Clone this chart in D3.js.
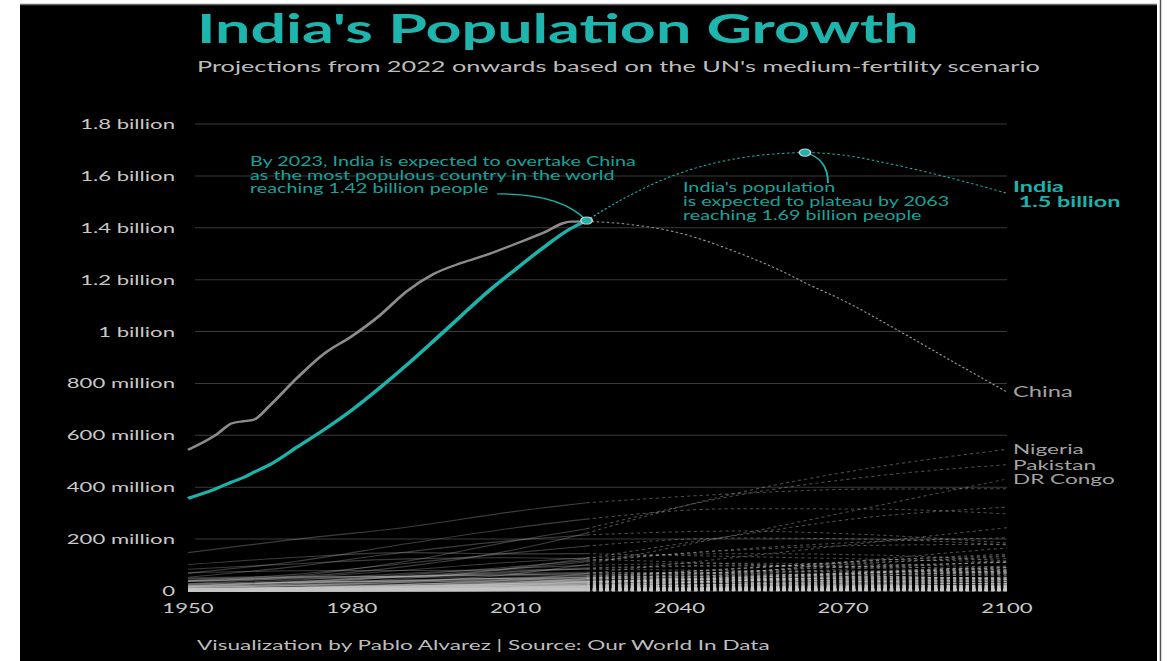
<!DOCTYPE html>
<html><head><meta charset="utf-8">
<script src="https://cdn.jsdelivr.net/npm/d3@7"></script>
<style>html,body{margin:0;padding:0;background:#fff;overflow:hidden}svg{display:block}text{font-family:Lato,sans-serif}</style>
</head><body><svg id="c" width="1171" height="661"></svg>
<script>
// ---- data (population in millions) ----
const histYears = [1950,1955,1958,1960,1962,1965,1970,1975,1980,1985,1990,1995,2000,2005,2010,2015,2020,2023];
const indiaHist = [357,393,420,436,457,487,555,623,697,781,870,964,1060,1155,1240,1322,1396,1428];
const chinaHist = [544,600,646,654,660,715,822,916,982,1060,1154,1222,1264,1298,1338,1380,1424,1425];
const projYears = [2023,2030,2040,2050,2060,2063,2070,2080,2090,2100];
const indiaProj = [1428,1515,1610,1665,1688,1690,1680,1640,1590,1533];
const chinaProj = [1425,1415,1380,1310,1220,1188,1120,1005,885,767];

const otherHistYears = [1950,1970,1990,2010,2023];
const otherProjYears = [2023,2050,2075,2100];
const otherNames = ["United States","Indonesia","Pakistan","Nigeria","Brazil","Bangladesh","Russia","Mexico","Japan","Ethiopia","Philippines","Egypt","DR Congo","Vietnam","Iran","Turkey","Germany","Thailand","United Kingdom","France","Tanzania","South Africa","Italy","Kenya","Myanmar","Colombia","South Korea","Uganda","Sudan","Spain","Argentina","Algeria","Iraq","Afghanistan","Poland","Canada","Morocco","Saudi Arabia","Ukraine","Angola","Uzbekistan","Yemen","Mozambique","Ghana","Peru","Malaysia","Nepal","Madagascar","Cote d'Ivoire","Venezuela","Cameroon","Niger","Australia","North Korea","Mali","Burkina Faso","Syria","Sri Lanka","Malawi","Zambia","Romania","Chile","Kazakhstan","Chad","Ecuador","Somalia","Guatemala","Senegal","Netherlands","Cambodia","Zimbabwe","Guinea","Rwanda","Benin","Burundi","Tunisia","Bolivia","Belgium","Haiti","Cuba","South Sudan","Dominican Republic","Czechia","Greece","Jordan","Portugal","Sweden","Azerbaijan","Hungary","Honduras","Belarus","Israel","Tajikistan","Papua New Guinea","Austria","Switzerland","Sierra Leone","Togo","Laos","Serbia","Bulgaria","Paraguay","Libya","Kyrgyzstan","El Salvador","Nicaragua","Turkmenistan","Singapore","Denmark","Finland","Congo","Norway","Lebanon","Liberia","Central African Republic","Ireland","New Zealand","Costa Rica","Mauritania","Oman","Palestine","Kuwait","Panama","Croatia","Georgia","Eritrea","Mongolia","Uruguay","Bosnia","Armenia","Albania","Lithuania","Jamaica","Qatar","Namibia","Gambia","Botswana","Gabon","Lesotho","Slovenia","Latvia","North Macedonia","Guinea-Bissau","Moldova","Bahrain","Equatorial Guinea","Estonia","Mauritius","Eswatini","Timor-Leste","Djibouti","Fiji","Cyprus","Comoros"];
const otherHist = [[148,200,246,307,340],[69,115,182,244,277],[37,59,115,194,240],[38,55,95,160,223],[53,95,150,196,216],[39,65,107,148,173],[102,130,148,143,144],[28,51,81,112,128],[84,105,124,128,123],[18,29,48,89,126],[18,36,62,94,117],[21,35,57,87,113],[13,20,35,66,102],[25,43,68,88,99],[17,29,56,76,89],[21,34,54,73,86],[70,78,79,81,84],[20,37,56,68,72],[50,56,57,63,68],[42,51,57,63,65],[8,13,25,45,67],[14,22,39,51,60],[47,53,57,59,59],[6,11,24,42,55],[17,26,41,50,54],[12,22,34,45,52],[19,32,43,49,52],[5,10,17,32,48],[6,11,20,34,48],[28,34,39,47,48],[17,24,33,41,46],[9,14,26,36,45],[6,10,18,30,45],[8,11,11,29,42],[25,33,38,38,38],[14,21,28,34,39],[9,16,25,32,38],[4,6,16,29,37],[37,47,52,46,37],[4,7,12,23,37],[6,12,20,28,35],[4,6,12,24,34],[6,9,13,23,34],[5,9,15,25,34],[8,13,22,29,34],[6,11,18,29,34],[8,12,18,27,31],[4,7,12,21,30],[3,6,12,21,29],[5,11,20,28,28],[4,7,12,20,28],[2,4,8,16,27],[8,13,17,22,26],[10,15,20,25,26],[5,6,8,15,23],[4,6,8,16,23],[3,6,12,22,23],[8,13,18,20,22],[3,5,9,15,21],[2,4,8,14,21],[16,20,23,20,19],[6,10,13,17,20],[6,13,16,16,20],[2,4,6,12,18],[3,6,10,15,18],[2,4,7,12,18],[3,6,9,14,18],[3,4,8,13,18],[10,13,15,17,18],[4,7,9,14,17],[3,5,9,12,17],[3,4,5,10,14],[2,4,7,10,14],[2,3,5,9,14],[2,3,5,9,13],[4,5,8,11,12],[3,4,7,10,12],[9,10,10,11,12],[3,5,7,10,12],[6,9,11,11,11],[3,3,5,10,11],[2,4,7,10,11],[9,10,10,10,11],[8,9,10,11,10],[0.5,2,3,7,11],[8,9,10,10,10],[7,8,9,9,11],[3,5,7,9,10],[9,10,10,10,10],[2,3,5,8,10],[8,9,10,9,9],[1,3,5,7,9],[2,3,5,8,10],[2,2,4,8,10],[7,7,8,8,9],[5,6,7,8,9],[2,3,4,7,9],[1,2,4,7,9],[2,3,4,6,8],[7,8,8,7,7],[7,9,9,7,7],[1,2,4,6,7],[1,2,4,6,7],[2,3,4,5,7],[2,4,5,6,6],[1,2,4,6,7],[1,2,4,5,6],[1,2,3,5,6],[4,5,5,6,6],[4,5,5,5,6],[1,1,2,4,6],[3,4,4,5,5],[1,2,3,5,5],[1,1,2,4,5],[1,2,3,4,5],[3,3,4,5,5],[2,3,3,4,5],[1,2,3,5,5],[1,1,2,4,5],[0.5,1,2,3,5],[1,1,2,4,5],[0.2,1,2,3,4],[1,2,2,4,4],[4,4,5,4,4],[3,4,5,4,4],[1,2,2,3,4],[1,1,2,3,3],[2,3,3,3,3],[3,4,4,4,3],[1,3,4,3,3],[1,2,3,3,3],[3,3,4,3,3],[1,2,2,3,3],[0,0.1,0.5,2,3],[0.5,1,1,2,3],[0.3,0.5,1,2,3],[0.4,0.7,1,2,3],[0.5,0.6,1,2,2],[0.7,1,2,2,2],[1.5,1.7,2,2,2],[2,2,3,2,2],[1,2,2,2,2],[0.5,0.6,1,2,2],[2,3,4,3,3],[0.1,0.2,0.5,1,1.5],[0.2,0.3,0.4,1,2],[1,1,1.5,1.3,1.3],[0.5,0.8,1,1.2,1.3],[0.3,0.4,0.8,1,1.2],[0.4,0.6,0.7,1,1.3],[0.1,0.2,0.6,0.9,1.1],[0.3,0.5,0.7,0.9,0.9],[0.5,0.6,0.8,1,1.3],[0.2,0.2,0.4,0.7,0.9]];
const otherProj = [[375,393,394],[317,316,297],[367,441,487],[375,474,546],[231,217,185],[204,200,177],[133,123,112],[144,139,116],[105,88,74],[213,285,323],[157,176,180],[160,190,205],[215,323,432],[107,103,91],[99,95,79],[96,93,83],[79,75,70],[67,57,46],[72,73,70],[66,64,60],[129,187,244],[73,78,74],[52,44,37],[86,111,125],[59,55,47],[56,55,45],[46,36,24],[87,117,136],[84,117,142],[44,38,32],[50,49,44],[60,66,67],[74,95,111],[74,97,110],[33,26,20],[45,49,53],[45,45,41],[47,50,47],[31,22,15],[72,107,133],[47,51,52],[56,71,77],[63,89,113],[52,64,70],[40,40,35],[40,41,37],[37,35,27],[53,74,97],[51,70,84],[34,33,28],[50,72,93],[67,120,166],[32,36,38],[26,23,19],[47,70,90],[39,53,63],[40,47,47],[22,20,16],[39,54,66],[40,59,75],[15,13,11],[20,18,15],[25,28,30],[38,59,79],[21,21,18],[41,69,90],[26,29,28],[33,45,54],[18,17,16],[22,24,22],[27,34,37],[26,37,45],[23,28,29],[25,35,42],[27,40,50],[13,13,11],[16,17,16],[12,12,11],[15,16,15],[10,8,6],[18,24,29],[13,13,12],[10,9,9],[8,7,6],[15,16,15],[9,7,6],[12,12,12],[11,10,9],[9,8,7],[13,14,13],[8,7,6],[15,19,22],[16,20,22],[16,20,22],[9,9,8],[10,10,10],[13,15,15],[15,20,23],[9,9,8],[5,4,3],[5,4,4],[8,8,7],[8,8,7],[9,10,10],[7,6,5],[8,8,7],[8,8,8],[6,6,5],[6,6,6],[5,5,5],[10,14,17],[6,6,6],[5,5,4],[9,11,13],[10,14,18],[6,6,6],[6,6,6],[5,5,4],[8,11,13],[6,6,6],[8,10,11],[5,5,5],[5,5,5],[3,3,2],[3,3,3],[6,7,8],[4,4,4],[3,3,2],[2,2,1],[3,2,2],[2,2,1],[2,2,2],[3,2,2],[3,3,3],[4,4,4],[4,5,5],[3,4,4],[4,4,5],[3,3,3],[2,2,2],[1.5,1.3,1.1],[2,1.5,1.2],[3,4,4],[2,2,1.5],[2,2,2],[3,3,4],[1.2,1.1,1],[1.2,1,0.8],[1.5,1.6,1.5],[2,2,2],[1.5,1.6,1.5],[1,1,1],[1.4,1.4,1.3],[1.3,1.5,1.6]];

const yTicks = [0,200,400,600,800,1000,1200,1400,1600,1800];
const xTicks = [1950,1980,2010,2040,2070,2100];
const labeledOthers = ["Nigeria","Pakistan","DR Congo"];
const markerYears = [2023,2063];
const markerValues = [1428,1690];

const title = "India's Population Growth";
const subtitle = "Projections from 2022 onwards based on the UN's medium-fertility scenario";
const footer = "Visualization by Pablo Alvarez | Source: Our World In Data";
const note1 = ["By 2023, India is expected to overtake China","as the most populous country in the world","reaching 1.42 billion people"];
const note2 = ["India's population","is expected to plateau by 2063","reaching 1.69 billion people"];

// ---- drawing ----
const S = 1.58; // horizontal stretch of the reference image
const TEAL = "#1bb3ab", TEAL_TXT = "#17a39c";
const svg = d3.select("#c");
svg.append("rect").attr("width",1171).attr("height",661).attr("fill","#fff");
svg.append("rect").attr("x",20).attr("y",4).attr("width",1137).attr("height",657).attr("fill","#000");
svg.append("line").attr("x1",20).attr("x2",1157).attr("y1",4.5).attr("y2",4.5).attr("stroke","#6a6a6a").attr("stroke-width",1.5);
svg.append("line").attr("x1",1160.5).attr("x2",1160.5).attr("y1",0).attr("y2",661).attr("stroke","#555").attr("stroke-width",1.5);

const g = svg.append("g").attr("transform",`scale(${S},1)`);
const x = d3.scaleLinear().domain([1950,2100]).range([188/S,1007/S]);
const y = d3.scaleLinear().domain([0,1800]).range([591,124]);
const line = d3.line().x(d=>x(d[0])).y(d=>y(d[1])).curve(d3.curveMonotoneX);

// grid
g.selectAll(".grid").data(yTicks).join("line")
  .attr("x1",195/S).attr("x2",x(2100)).attr("y1",d=>y(d)).attr("y2",d=>y(d))
  .attr("stroke","#3a3a3a").attr("stroke-width",1);
const fmt = v => v===0 ? "0" : v>=1000 ? d3.format("~g")(v/1000)+" billion" : v+" million";
g.selectAll(".yl").data(yTicks).join("text")
  .attr("x",175/S).attr("y",d=>y(d)+5).attr("text-anchor","end")
  .attr("font-size",14).attr("fill","#c9c9c9").text(fmt);
g.selectAll(".xl").data(xTicks).join("text")
  .attr("x",d=>x(d)).attr("y",613).attr("text-anchor","middle")
  .attr("font-size",14).attr("fill","#c9c9c9").text(d=>d);

// other countries
const oth = g.append("g");
otherNames.forEach((n,i)=>{
  const h = otherHistYears.map((yr,j)=>[yr,otherHist[i][j]]);
  const p = otherProjYears.map((yr,j)=>[yr, j===0 ? otherHist[i][4] : otherProj[i][j-1]]);
  oth.append("path").attr("d",line(h)).attr("fill","none").attr("stroke","#c8c8c8").attr("stroke-opacity",0.3).attr("stroke-width",1.1);
  oth.append("path").attr("d",line(p)).attr("fill","none").attr("stroke","#c8c8c8").attr("stroke-opacity",0.4).attr("stroke-width",1).attr("stroke-dasharray","2,2");
  if (labeledOthers.includes(n)) {
    g.append("text").attr("x",1013/S).attr("y",y(otherProj[i][2])+5).attr("font-size",14.3).attr("fill","#a3a3a3").text(n);
  }
});

// China
g.append("path").attr("d",line(histYears.map((yr,j)=>[yr,chinaHist[j]]))).attr("fill","none").attr("stroke","#8c8c8c").attr("stroke-width",2.2);
g.append("path").attr("d",line(projYears.map((yr,j)=>[yr,chinaProj[j]]))).attr("fill","none").attr("stroke","#9a9a9a").attr("stroke-width",1).attr("stroke-dasharray","1.6,1.6");
g.append("text").attr("x",1013/S).attr("y",y(chinaProj[chinaProj.length-1])+5).attr("font-size",15).attr("fill","#a3a3a3").text("China");

// India
g.append("path").attr("d",line(histYears.map((yr,j)=>[yr,indiaHist[j]]))).attr("fill","none").attr("stroke",TEAL).attr("stroke-width",2.8);
g.append("path").attr("d",line(projYears.map((yr,j)=>[yr,indiaProj[j]]))).attr("fill","none").attr("stroke",TEAL).attr("stroke-width",1).attr("stroke-dasharray","1.6,1.6");
const iEnd = y(indiaProj[indiaProj.length-1]);
g.append("text").attr("x",1013/S).attr("y",iEnd-1.5).attr("font-size",14.8).attr("font-weight",700).attr("fill",TEAL).text("India");
g.append("text").attr("x",1013/S).attr("y",iEnd+13.5).attr("font-size",14.8).attr("font-weight",700).attr("fill",TEAL).attr("xml:space","preserve").text(" 1.5 billion");

// annotation connectors
const m1x = x(markerYears[0]), m1y = y(markerValues[0]);
const m2x = x(markerYears[1]), m2y = y(markerValues[1]);
g.append("path").attr("d",`M${497/S},194 Q${560/S},193 ${m1x},${m1y}`).attr("fill","none").attr("stroke",TEAL).attr("stroke-width",1.2);
g.append("path").attr("d",`M${m2x},${m2y} Q${828/S},${m2y+6} ${828/S},183`).attr("fill","none").attr("stroke",TEAL).attr("stroke-width",1.2);
// markers
g.selectAll(".mk").data(markerYears).join("circle")
  .attr("cx",d=>x(d)).attr("cy",(d,i)=>y(markerValues[i])).attr("r",3.6)
  .attr("fill",TEAL).attr("stroke","#cfcfcf").attr("stroke-width",1);

// annotation texts
note1.forEach((t,i)=>g.append("text").attr("x",250/S).attr("y",166.5+i*13.4).attr("font-size",12.5).attr("fill",TEAL_TXT).text(t));
note2.forEach((t,i)=>g.append("text").attr("x",683/S).attr("y",192.5+i*13.6).attr("font-size",12.5).attr("fill",TEAL_TXT).text(t));

// titles
g.append("text").attr("x",197/S).attr("y",43).attr("font-size",39.7).attr("font-weight",700).attr("fill","#1db5ad").text(title);
g.append("text").attr("x",197/S).attr("y",72).attr("font-size",16).attr("fill","#bdbdbd").text(subtitle);
g.append("text").attr("x",197/S).attr("y",650).attr("font-size",14.3).attr("fill","#bdbdbd").text(footer);
</script></body></html>
